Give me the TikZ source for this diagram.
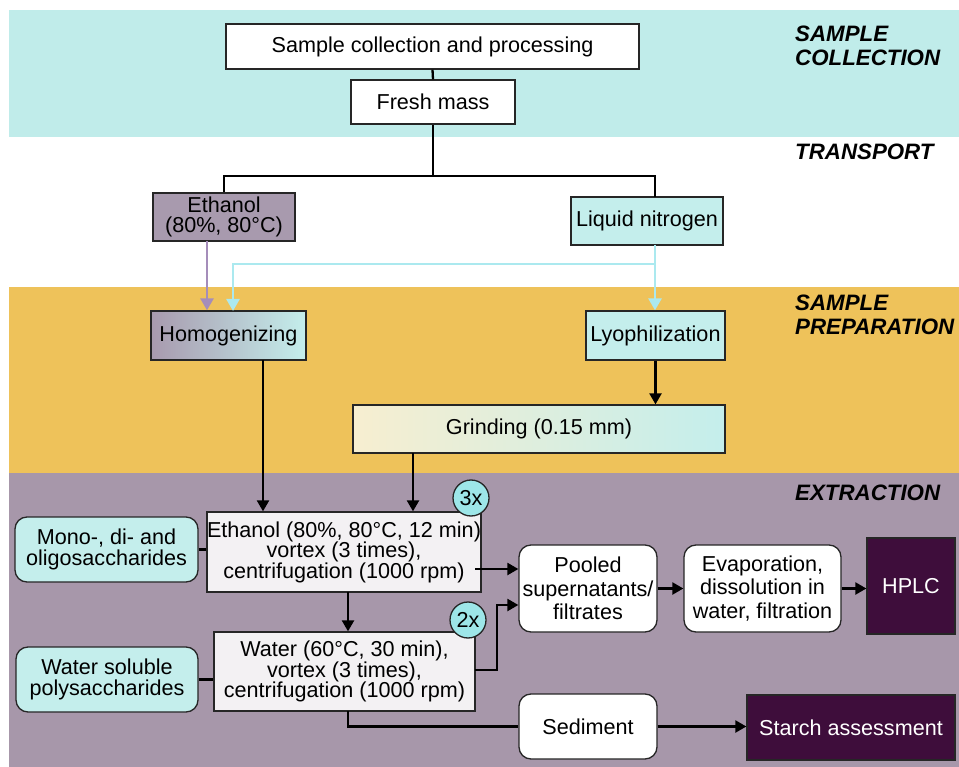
\documentclass[tikz,border=0pt]{standalone}
\usepackage{fontspec}
\setmainfont{Liberation Sans}
\usetikzlibrary{arrows.meta,calc}
\definecolor{cband}{HTML}{C0ECEA}
\definecolor{oband}{HTML}{EEC25A}
\definecolor{mband}{HTML}{A797AA}
\definecolor{etohc}{HTML}{A89AAE}
\definecolor{lcyan}{HTML}{C4EEEC}
\definecolor{dpurp}{HTML}{3E0D3B}
\definecolor{cream}{HTML}{F7EED0}
\definecolor{extc}{HTML}{F3F1F3}
\definecolor{parr}{HTML}{A58DBA}
\definecolor{carr}{HTML}{ABE9EF}
\definecolor{circc}{HTML}{9DE6E8}
\begin{document}
\begin{tikzpicture}[x=1pt,y=-1pt,
  box/.style={draw=black!85, line width=1.3pt, align=center, inner sep=0pt,
    font=\fontsize{21.6}{20.5}\selectfont},
  rbox/.style={box, rounded corners=12pt, fill=white, font=\fontsize{21.6}{23.5}\selectfont},
  conn/.style={line width=2.3pt, black},
  arr/.style={conn, -{Triangle[length=11pt,width=12pt]}},
  parrow/.style={line width=2.6pt, parr, -{Triangle[length=12pt,width=13pt]}},
  carrow/.style={line width=2.6pt, carr, -{Triangle[length=12pt,width=13pt]}},
  seclab/.style={anchor=west, align=left, inner sep=0pt,
    font=\fontsize{22.3}{24}\selectfont\bfseries\itshape},
  badge/.style={circle, draw=black!85, line width=1.3pt, fill=circc, minimum size=36pt,
    inner sep=0pt, font=\fontsize{21.6}{21}\selectfont}]
\useasboundingbox (0,0) rectangle (959,767);
\fill[white] (0,0) rectangle (959,767);
% bands
\fill[cband] (9,10) rectangle (959,137);
\fill[oband] (9,287) rectangle (959,473);
\fill[mband] (9,473) rectangle (959,767);
% section labels
\node[seclab] (lsc) at (795,46) {SAMPLE\\COLLECTION};
\node[seclab] (ltr) at (795,152) {TRANSPORT};
\node[seclab] (lsp) at (795,315) {SAMPLE\\PREPARATION};
\node[seclab] (lex) at (795,493) {EXTRACTION};
% nodes
\node[box, fill=white, minimum width=413pt, minimum height=45pt] (samp) at (432.5,46.5) {Sample collection and processing};
\node[box, fill=white, minimum width=164pt, minimum height=44pt] (fresh) at (433,102) {Fresh mass};
\node[box, fill=etohc, minimum width=142pt, minimum height=48pt] (etoh) at (224,217) {Ethanol\\(80\%, 80°C)};
\node[box, fill=lcyan, minimum width=152pt, minimum height=48pt] (ln2) at (647,221) {Liquid nitrogen};
\node[box, left color=etohc, right color=lcyan, minimum width=155pt, minimum height=49pt] (homog) at (228.5,335.5) {Homogenizing};
\node[box, fill=lcyan, minimum width=139pt, minimum height=49pt] (lyo) at (655.5,335.5) {Lyophilization};
\node[box, left color=cream, right color=lcyan, minimum width=372pt, minimum height=48pt] (grind) at (539,429) {Grinding (0.15 mm)};
\node[box, fill=extc, minimum width=262pt, minimum height=80pt] (ext1) at (344,552) {Ethanol (80\%, 80°C, 12 min)\\vortex (3 times),\\centrifugation (1000 rpm)};
\node[box, fill=extc, minimum width=261pt, minimum height=79pt] (ext2) at (344.5,671.5) {Water (60°C, 30 min),\\vortex (3 times),\\centrifugation (1000 rpm)};
\node[box, rounded corners=12pt, fill=lcyan, minimum width=183pt, minimum height=65pt] (mono) at (106.5,549.5) {Mono-, di- and\\oligosaccharides};
\node[box, rounded corners=12pt, fill=lcyan, minimum width=182pt, minimum height=65pt] (wsp) at (107,679.5) {Water soluble\\polysaccharides};
\node[rbox, minimum width=138pt, minimum height=87pt] (pooled) at (588,588.5) {Pooled\\supernatants/\\filtrates};
\node[rbox, minimum width=157pt, minimum height=87pt] (evap) at (762.5,588.5) {Evaporation,\\dissolution in\\water, filtration};
\node[box, fill=dpurp, text=white, minimum width=88pt, minimum height=96pt] (hplc) at (911,586) {HPLC};
\node[rbox, minimum width=138pt, minimum height=65pt] (sed) at (588,726.5) {Sediment};
\node[box, fill=dpurp, text=white, minimum width=208pt, minimum height=65pt] (starch) at (851,727.5) {Starch assessment};
\node[badge] (c3) at (471,498) {3x};
\node[badge] (c2) at (468,620) {2x};
% connectors
\coordinate (split) at (433,176);
\draw[conn] (samp.south) -- (fresh.north);
\draw[conn] (fresh.south) -- (split);
\draw[conn] (split) -| (etoh.north);
\draw[conn] (split) -| (655,197);
\coordinate (eb) at (207,241);
\draw[parrow] (eb) -- (eb |- homog.north);
\coordinate (lb) at (655,245);
\coordinate (lt) at (655,264);
\draw[carrow] (lb) -- (lt) -| (233,311);
\draw[carrow] (lb) -- (lb |- lyo.north);
\draw[arr] (lyo.south) -- (lyo.south |- grind.north);
\coordinate (hb) at (263,360);
\draw[arr] (hb) -- (hb |- ext1.north);
\coordinate (gb) at (413,453);
\draw[arr] (gb) -- (gb |- ext1.north);
\coordinate (e1b) at (348,592);
\draw[arr] (e1b) -- (e1b |- ext2.north);
\draw[conn] (mono.east) -- (mono.east -| ext1.west);
\draw[conn] (wsp.east) -- (wsp.east -| ext2.west);
\coordinate (e1o) at (475,569);
\draw[arr] (e1o) -- (e1o -| pooled.west);
\coordinate (e2o) at (475,670);
\coordinate (e2k) at (497,605);
\draw[arr] (e2o) -| (e2k) -- (e2k -| pooled.west);
\draw[arr] (pooled.east) -- (evap.west);
\draw[arr] (evap.east) -- (evap.east -| hplc.west);
\coordinate (e2b) at (348,711);
\draw[conn] (e2b) |- (sed.west);
\draw[arr] (sed.east) -- (sed.east -| starch.west);
\end{tikzpicture}
\end{document}
